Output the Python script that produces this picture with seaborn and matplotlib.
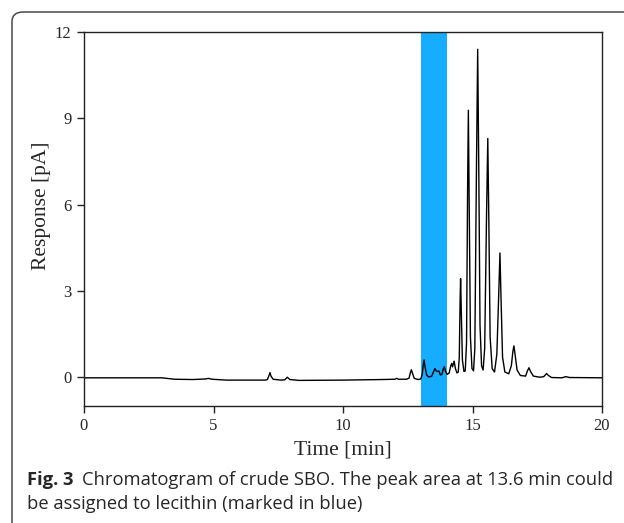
import numpy as np
import pandas as pd
import matplotlib
matplotlib.use("Agg")
import matplotlib.pyplot as plt
from matplotlib.patches import FancyBboxPatch
import seaborn as sns

sns.set_style("white")

# chromatogram trace (time in min, response in pA)
time_min = [
    0.0, 3.0, 3.5, 4.2, 4.7, 4.8, 4.95, 5.5, 6.5, 7.0,
    7.08, 7.14, 7.18, 7.22, 7.3, 7.6,
    7.75, 7.85, 7.95, 8.3, 10.0, 11.5, 12.0, 12.07, 12.15, 12.45,
    12.55, 12.6, 12.64, 12.69, 12.75, 12.9, 13.0,
    13.06, 13.1, 13.13, 13.17, 13.23, 13.3, 13.42,
    13.5, 13.55, 13.6, 13.66, 13.7, 13.76, 13.82,
    13.87, 13.91, 13.96, 14.02, 14.1,
    14.16, 14.2, 14.23, 14.29, 14.34, 14.4, 14.45,
    14.49, 14.52, 14.54, 14.57, 14.61, 14.67, 14.72,
    14.77, 14.81, 14.84, 14.87, 14.92, 14.98, 15.04,
    15.09, 15.15, 15.2, 15.24, 15.29, 15.35, 15.41,
    15.47, 15.54, 15.59, 15.63, 15.68, 15.76, 15.85,
    15.94, 16.01, 16.06, 16.1, 16.16, 16.25, 16.4,
    16.5, 16.56, 16.6, 16.65, 16.72, 16.85, 17.05,
    17.12, 17.18, 17.24, 17.35, 17.6, 17.75,
    17.82, 17.86, 17.92, 18.05, 18.45, 18.6, 18.75, 20.0,
]
response_pa = [
    -0.02, -0.02, -0.07, -0.08, -0.06, -0.04, -0.07, -0.10, -0.10, -0.10,
    -0.08, 0.05, 0.16, 0.04, -0.07, -0.10,
    -0.09, 0.0, -0.08, -0.11, -0.10, -0.08, -0.07, -0.04, -0.07, -0.07,
    -0.03, 0.15, 0.26, 0.12, -0.04, -0.08, -0.06,
    0.10, 0.45, 0.60, 0.35, 0.08, 0.01, 0.03,
    0.20, 0.30, 0.22, 0.20, 0.22, 0.08, 0.10,
    0.28, 0.37, 0.20, 0.10, 0.15,
    0.40, 0.48, 0.36, 0.56, 0.30, 0.15, 0.18,
    0.70, 2.60, 3.43, 2.20, 0.60, 0.20, 0.22,
    1.20, 6.50, 9.28, 6.20, 1.40, 0.30, 0.22,
    1.00, 7.00, 11.40, 7.50, 1.80, 0.40, 0.25,
    1.00, 5.50, 8.30, 5.50, 1.40, 0.30, 0.18,
    0.80, 2.80, 4.32, 2.80, 0.70, 0.18, 0.12,
    0.40, 0.90, 1.09, 0.75, 0.25, 0.06, 0.04,
    0.22, 0.33, 0.20, 0.04, 0.0, 0.02,
    0.09, 0.13, 0.07, -0.01, -0.02, 0.02, -0.01, -0.02,
]

# region assigned to lecithin
lecithin_span = (13.0, 14.0)

x_ticks = [0, 5, 10, 15, 20]
y_ticks = [0, 3, 6, 9, 12]

df = pd.DataFrame({"Time": time_min, "Response": response_pa})

fig = plt.figure(figsize=(6.24, 5.23), dpi=100)
ax = fig.add_axes([84 / 624, 1 - 406 / 523, (602 - 84) / 624, (406 - 32) / 523])

# card frame around figure + caption
card = FancyBboxPatch((12 / 624, -0.2), 1.2, 1 - 12 / 523 + 0.2,
                      boxstyle="round,pad=0,rounding_size=0.018",
                      transform=fig.transFigure, fill=False,
                      edgecolor="#4a4a4a", linewidth=1.1, clip_on=False)
fig.patches.append(card)

ax.axvspan(*lecithin_span, color="#17adff", zorder=1, linewidth=0)
sns.lineplot(data=df, x="Time", y="Response", sort=False, estimator=None,
             color="black", linewidth=1.0, ax=ax, zorder=2)

ax.set_xlim(0, 20)
ax.set_ylim(-1, 12)
ax.set_xticks(x_ticks)
ax.set_yticks(y_ticks)

serif = "Liberation Serif"
ax.set_xlabel("Time [min]", fontsize=15.5, family=serif, labelpad=4)
ax.set_ylabel("Response [pA]", fontsize=15.5, family=serif)
ax.yaxis.set_label_coords(-0.063, 0.535)
for lab in ax.get_xticklabels() + ax.get_yticklabels():
    lab.set_family(serif)
    lab.set_fontsize(12)

ax.tick_params(direction="out", length=5, width=1, color="#222222",
               bottom=True, left=True, pad=4)
for sp in ax.spines.values():
    sp.set_color("#222222")
    sp.set_linewidth(1)

# caption
cap_font = "Open Sans"
cap_size = 13.2
fig.canvas.draw()
t1 = fig.text(27 / 624, 1 - 485 / 523, "Fig. 3", fontsize=cap_size,
              family=cap_font, fontweight="bold", va="baseline")
bb = t1.get_window_extent(renderer=fig.canvas.get_renderer())
fig.text((bb.x1 + 9) / 624, 1 - 485 / 523,
         "Chromatogram of crude SBO. The peak area at 13.6 min could",
         fontsize=cap_size, family=cap_font, va="baseline")
fig.text(27 / 624, 1 - 509 / 523, "be assigned to lecithin (marked in blue)",
         fontsize=cap_size, family=cap_font, va="baseline")

fig.savefig("out.png", dpi=100)
